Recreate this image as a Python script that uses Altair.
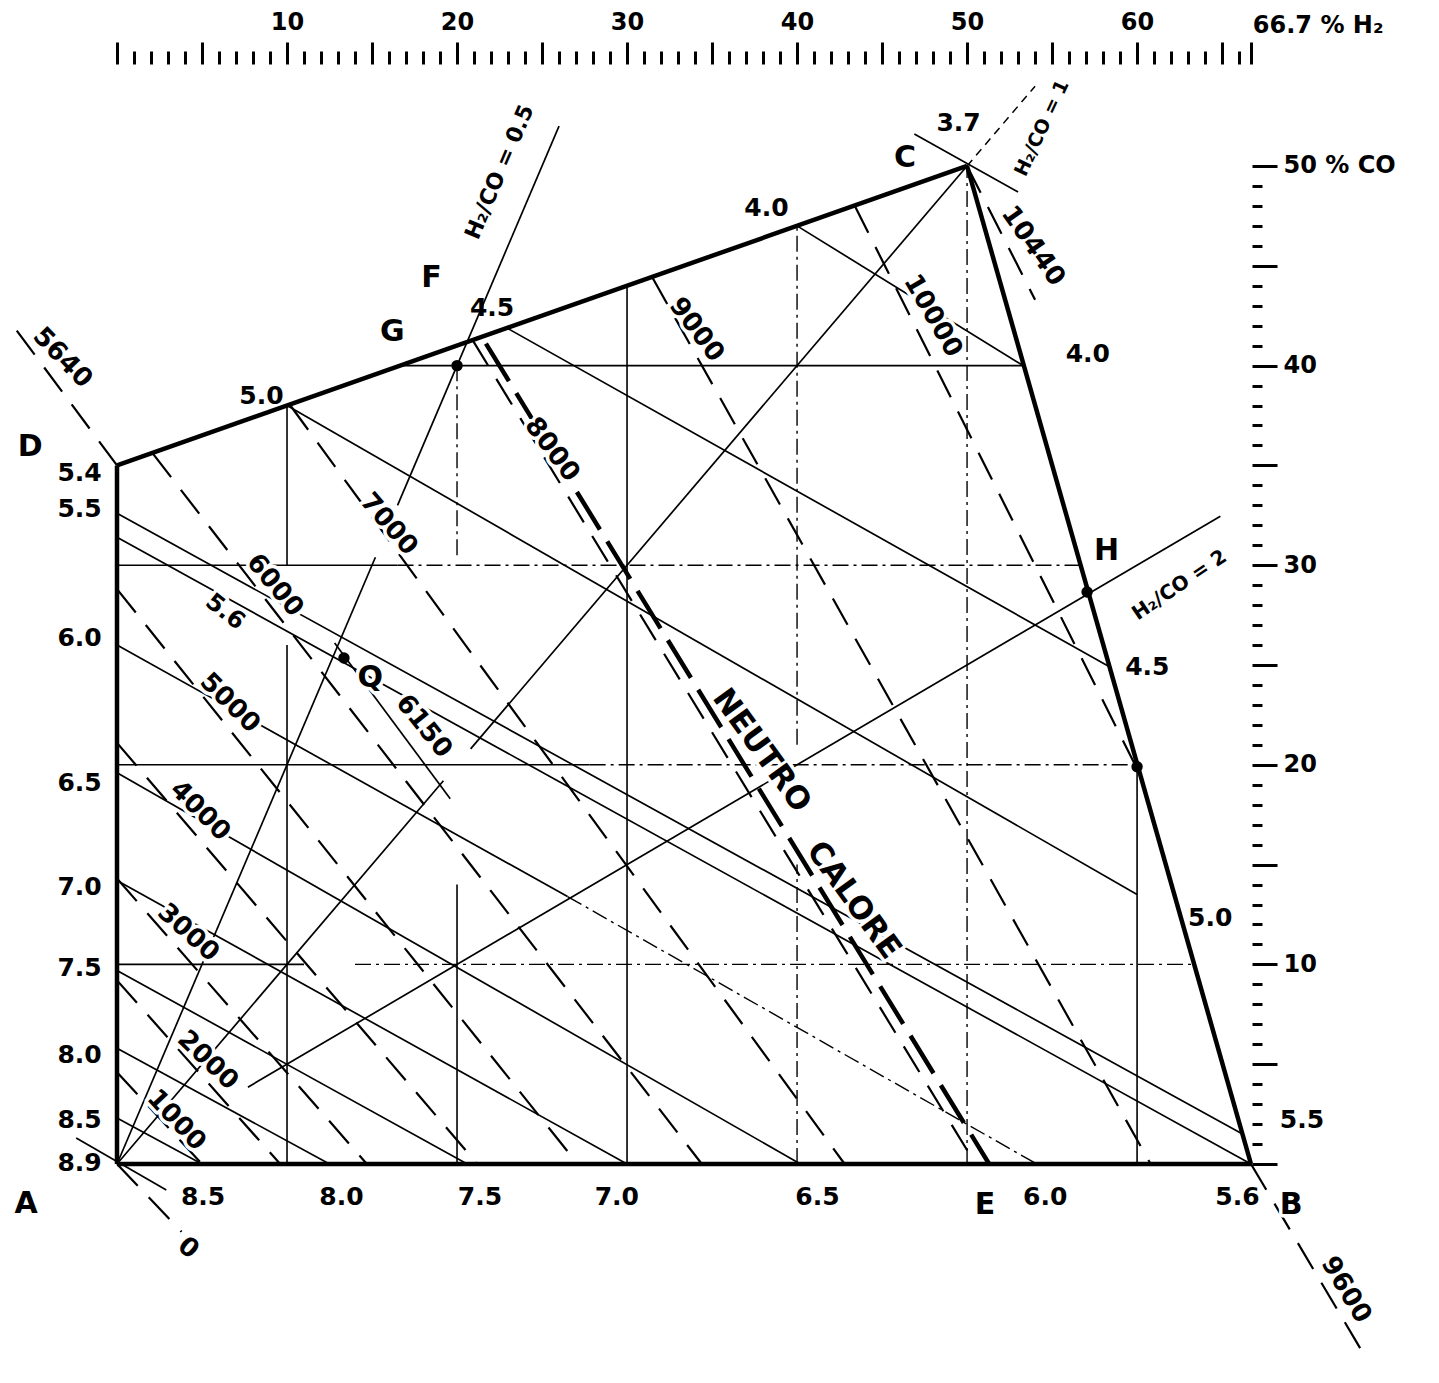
import altair as alt
import pandas as pd

FONT = "DejaVu Sans"

# ---------------- data: x = % H2, y = % CO ----------------
# bold frame A-B-C-D
boundary = [
    (0.0, 0.0, 66.7, 0.0),
    (66.7, 0.0, 50.0, 50.0),
    (50.0, 50.0, 0.0, 35.0),
    (0.0, 35.0, 0.0, 0.0),
]
# thin solid grid pieces
grid_solid = [
    (10, 0, 10, 26), (10, 30, 10, 38),
    (20, 0, 20, 14),
    (30, 0, 30, 44),
    (60, 0, 60, 20),
    (0, 30, 16.5, 30),
    (0, 20, 27.8, 20),
    (0, 10, 11, 10),
    (16.7, 40, 53.3, 40),
]
# thin dash-dot grid pieces
grid_dashdot = [
    (20, 30.5, 20, 40),
    (40, 0, 40, 15), (40, 21, 40, 47),
    (50, 0, 50, 50),
    (16.5, 30, 56.7, 30),
    (27.8, 20, 60, 20),
    (14, 10, 63.4, 10),
    (26.5, 13.4, 54.1, 0),
]
# constant-value lines (solid)
iso_lines = [
    (40, 47, 53.3, 40),         # 4.0
    (46.9, 51.6, 53.0, 48.7),   # 3.7
    (22.9, 41.9, 58.4, 24.9),   # 4.5
    (10, 38, 60, 13.5),         # 5.0
    (0, 32.6, 66.2, 1.5),       # 5.5
    (0, 31.4, 66.7, 0),         # 5.6
    (0, 26.0, 26.5, 13.4),      # 6.0
    (0, 19.6, 40.2, 0),         # 6.5
    (0, 14.2, 30.0, 0),         # 7.0
    (0, 9.7, 20.6, 0),          # 7.5
    (0, 5.8, 12.5, 0),          # 8.0
    (0, 2.3, 5.0, 0),           # 8.5
    (-2.4, 1.3, 2.9, -1.3),     # 8.9
]
# H2/CO ratio lines and the 6150 line through Q
ratio_lines = [
    (0, 0, 15.2, 30.4), (16.5, 33.0, 26.0, 52.0),   # H2/CO = 0.5
    (0, 0, 19.2, 19.2), (20.8, 20.8, 50, 50),       # H2/CO = 1
    (7.7, 3.85, 64.9, 32.45),                       # H2/CO = 2
    (12.8, 26.1, 19.6, 18.3),                       # 6150
]
ratio_ext = [(50, 50, 54.0, 54.0)]
# heat lines (dashed)
heat_lines = [
    (0, 0, 3.8, -3.4),          # 0
    (0, 4.6, 5.0, 0),           # 1000
    (0, 9.2, 9.6, 0),           # 2000
    (0, 14.3, 14.7, 0),         # 3000
    (0, 21.1, 21.2, 0),         # 4000
    (0, 28.8, 27.1, 0),         # 5000
    (2.1, 35.6, 34.4, 0),       # 6000
    (10.2, 38.0, 42.8, 0),      # 7000
    (20.9, 41.3, 50.5, 0),      # 8000
    (31.5, 44.4, 60.8, 0),      # 9000
    (43.4, 48.0, 60.0, 19.8),   # 10000
    (50, 50, 54.0, 43.3),       # 10440
    (66.7, 0, 73.8, -10.2),     # 9600
    (0, 35, -6.2, 42.1),        # 5640
]
neutral_line = [(21.7, 41.1, 51.3, 0)]

# marked points
pt_x = [20.0, 13.35, 57.06, 60.0]
pt_y = [40.0, 25.35, 28.66, 19.9]

# heat labels
heat_text = ["0", "1000", "2000", "3000", "4000", "5000", "6000", "7000",
             "8000", "9000", "10000", "10440", "9600", "5640", "6150"]
heat_tx = [4.2, 3.5, 5.35, 4.2, 4.9, 6.65, 9.3, 16.0, 25.6, 34.1, 48.0, 53.9, 72.3, -3.2, 18.06]
heat_ty = [-4.2, 2.2, 5.2, 11.6, 17.7, 23.1, 29.0, 32.06, 35.8, 41.8, 42.5, 46.0, -6.3, 40.4, 21.94]
heat_ang = [40, 47, 44, 42, 45, 45, 50, 49, 53, 53, 60, 55, 59, 46, 51]

neutro_text = ["NEUTRO", "CALORE"]
neutro_tx = [37.9, 43.3]
neutro_ty = [20.7, 13.2]
neutro_ang = [54, 54]

ratio_text = ["H\u2082/CO = 0.5", "H\u2082/CO = 1", "H\u2082/CO = 2"]
ratio_tx = [22.5, 54.4, 62.5]
ratio_ty = [49.7, 51.9, 29.0]
ratio_ang = [293, 295, 326]
ratio_size = [22, 19, 20]

letter_text = ["A", "B", "C", "D", "E", "F", "G", "H", "Q"]
letter_tx = [-5.35, 69.06, 46.35, -5.1, 51.06, 18.5, 16.2, 58.2, 14.9]
letter_ty = [-2.0, -2.05, 50.4, 35.9, -2.05, 44.4, 41.7, 30.7, 24.35]

left_text = ["5.4", "5.5", "6.0", "6.5", "7.0", "7.5", "8.0", "8.5", "8.9"]
left_ty = [34.6, 32.8, 26.35, 19.1, 13.9, 9.8, 5.46, 2.2, 0.05]

edge_text = ["8.5", "8.0", "7.5", "7.0", "6.5", "6.0", "5.6",
             "5.0", "4.5", "4.0", "3.7",
             "4.0", "4.5", "5.0", "5.5"]
edge_tx = [5.06, 13.2, 21.35, 29.4, 41.2, 54.6, 65.9,
           8.5, 22.06, 38.2, 49.5,
           57.1, 60.6, 64.3, 69.7]
edge_ty = [-1.65, -1.65, -1.65, -1.65, -1.65, -1.65, -1.65,
           38.5, 42.9, 47.9, 52.15,
           40.6, 24.9, 12.3, 2.2]

x_ticks = list(range(0, 67)) + [66.7]
y_ticks = list(range(0, 51))
top_title = ["66.7 % H\u2082"]
top_title_x = [70.65]
top_title_y = [57.0]

# ---------------- chart ----------------
xs = alt.Scale(domain=[0, 66.76], nice=False, zero=False)
ys = alt.Scale(domain=[0, 55.11], nice=False, zero=False)

x_axis = alt.Axis(
    orient="top", values=x_ticks, title=None, domain=False, grid=False,
    tickColor="black", tickWidth=3,
    tickSize={"condition": {"test": "datum.value % 5 === 0 || datum.value > 66", "value": 22}, "value": 13},
    labelExpr="(datum.value % 10 === 0 && datum.value > 0 && datum.value < 66) ? datum.label : ''",
    labelFont=FONT, labelFontSize=24, labelFontWeight="bold", labelColor="black", labelPadding=8,
    labelOverlap=False, labelFlush=False, labelBound=False,
)
y_axis = alt.Axis(
    orient="right", values=y_ticks, title=None, domain=False, grid=False,
    tickColor="black", tickWidth=3,
    tickSize={"condition": {"test": "datum.value % 5 === 0", "value": 25}, "value": 10},
    labelExpr="datum.value === 50 ? '50 % CO' : ((datum.value % 10 === 0 && datum.value > 0) ? datum.label : '')",
    labelFont=FONT, labelFontSize=24, labelFontWeight="bold", labelColor="black", labelPadding=6,
    labelOverlap=False, labelFlush=False, labelBound=False,
)

X = alt.X("x:Q", scale=xs, axis=x_axis)
Y = alt.Y("y:Q", scale=ys, axis=y_axis)


def seg_layer(rows, width, dash=None):
    df = pd.DataFrame(rows, columns=["x", "y", "x2", "y2"])
    props = dict(color="black", strokeWidth=width, strokeCap="butt")
    if dash:
        props["strokeDash"] = dash
    return alt.Chart(df).mark_rule(**props).encode(
        x=X, y=Y, x2=alt.X2("x2:Q"), y2=alt.Y2("y2:Q"))


def text_layers(texts, xsv, ysv, angs, size, weight="bold", align="center", halo=False):
    df = pd.DataFrame({"t": texts, "x": xsv, "y": ysv, "a": angs})
    base = alt.Chart(df)
    enc = dict(x=X, y=Y, text=alt.Text("t:N"), angle=alt.Angle("a:Q", scale=None))
    out = []
    if halo:
        out.append(base.mark_text(font=FONT, fontSize=size, fontWeight=weight, align=align,
                                  baseline="middle", color="white", stroke="white",
                                  strokeWidth=7, strokeJoin="round").encode(**enc))
    out.append(base.mark_text(font=FONT, fontSize=size, fontWeight=weight, align=align,
                              baseline="middle", color="black").encode(**enc))
    return out


layers = [
    seg_layer(grid_dashdot, 1.4, [16, 5, 3, 5]),
    seg_layer(grid_solid, 1.6),
    seg_layer(iso_lines, 1.7),
    seg_layer(ratio_lines, 1.7),
    seg_layer(ratio_ext, 1.5, [8, 6]),
    seg_layer(heat_lines, 2.2, [30, 16]),
    seg_layer(neutral_line, 4.5, [44, 14]),
    seg_layer(boundary, 4.5),
]

pts = pd.DataFrame({"x": pt_x, "y": pt_y})
layers.append(alt.Chart(pts).mark_circle(color="black", opacity=1, size=130).encode(x=X, y=Y))

layers += text_layers(heat_text, heat_tx, heat_ty, heat_ang, 26, halo=True)
layers += text_layers(neutro_text, neutro_tx, neutro_ty, neutro_ang, 31, halo=True)
for i in range(len(ratio_text)):
    layers += text_layers([ratio_text[i]], [ratio_tx[i]], [ratio_ty[i]], [ratio_ang[i]],
                          ratio_size[i], halo=True)
layers += text_layers(letter_text, letter_tx, letter_ty, [0] * len(letter_text), 30, halo=True)
layers += text_layers(left_text, [-0.9] * len(left_text), left_ty, [0] * len(left_text), 25,
                      align="right")
layers += text_layers(edge_text, edge_tx, edge_ty, [0] * len(edge_text), 25)
layers += text_layers(["5.6"], [6.35], [27.65], [38], 24, halo=True)
layers += text_layers(top_title, top_title_x, top_title_y, [0], 24)

chart = alt.layer(*layers).properties(
    width=1135,
    height=1100,
    autosize=alt.AutoSizeParams(type="none"),
    padding={"left": 109, "top": 56, "right": 179, "bottom": 195},
    background="white",
).configure_view(strokeWidth=0)

chart.save("out.html", embed_options={"renderer": "svg", "actions": False})
